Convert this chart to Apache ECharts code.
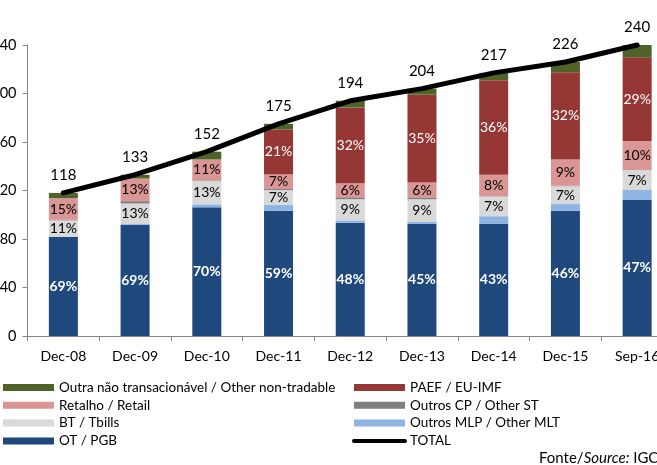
<!DOCTYPE html>
<html>
<head>
<meta charset="utf-8">
<script src="https://cdn.jsdelivr.net/npm/echarts@6/dist/echarts.min.js"></script>
<style>
  html, body { margin: 0; padding: 0; background: #fff; }
  #chart { width: 657px; height: 465px; }
</style>
</head>
<body>
<div id="chart"></div>
<script>
const categories = ["Dec-08", "Dec-09", "Dec-10", "Dec-11", "Dec-12", "Dec-13", "Dec-14", "Dec-15", "Sep-16"];

// stacked components (bottom to top)
const otPgb = [81.9, 91.5, 106.1, 103.3, 93.5, 92.5, 92.5, 103.3, 112.2];
const otherMlt = [0, 0.8, 2.5, 4.7, 1.8, 1.5, 6.3, 5.5, 8.2];
const tbills = [13.5, 17.0, 19.2, 12.3, 17.5, 18.8, 16.3, 14.8, 16.5];
const otherSt = [0.4, 1.9, 0.5, 0.9, 1.6, 1.5, 0.3, 0.5, 0];
const retail = [17.9, 18.7, 17.3, 12.3, 11.6, 12.2, 17.6, 21.4, 23.9];
const euImf = [0, 0, 0, 36.8, 62.5, 72.5, 78.0, 72.0, 69.0];
const otherNonTradable = [4.3, 3.1, 6.4, 4.7, 5.5, 5.0, 6.0, 8.5, 10.2];
const total = [118, 133, 152, 175, 194, 204, 217, 226, 240];

// percentage labels as printed on the bars
const otPgbPct = ["69%", "69%", "70%", "59%", "48%", "45%", "43%", "46%", "47%"];
const tbillsPct = ["11%", "13%", "13%", "7%", "9%", "9%", "7%", "7%", "7%"];
const retailPct = ["15%", "13%", "11%", "7%", "6%", "6%", "8%", "9%", "10%"];
const euImfPct = ["", "", "", "21%", "32%", "35%", "36%", "32%", "29%"];

const yTicks = { min: 0, max: 240, interval: 40 };

const FONT = "Lato";

function pctLabel(texts, color, bold) {
  return {
    show: true,
    position: "inside",
    color: color,
    fontFamily: FONT,
    fontSize: 14,
    fontWeight: bold ? "bold" : "normal",
    formatter: (p) => texts[p.dataIndex]
  };
}

function barSeries(name, data, color, label) {
  return {
    name: name,
    type: "bar",
    stack: "debt",
    barWidth: 29,
    data: data,
    itemStyle: { color: color },
    label: label || { show: false },
    emphasis: { disabled: true }
  };
}

const legendText = { color: "#000", fontSize: 13.5, lineHeight: 15, fontFamily: FONT };

const chart = echarts.init(document.getElementById("chart"));

chart.setOption({
  animation: false,
  textStyle: { fontFamily: FONT },
  grid: { left: 27.5, right: -16, top: 45, bottom: 129, containLabel: false, outerBoundsMode: "none" },
  xAxis: {
    type: "category",
    data: categories,
    axisLine: { lineStyle: { color: "#868686", width: 1 } },
    axisTick: { show: true, length: 5, lineStyle: { color: "#868686" } },
    axisLabel: { color: "#000", fontSize: 14, fontFamily: FONT, margin: 13, interval: 0 }
  },
  yAxis: {
    type: "value",
    min: yTicks.min,
    max: yTicks.max,
    interval: yTicks.interval,
    axisLine: { show: true, lineStyle: { color: "#868686", width: 1 } },
    axisTick: { show: true, length: 5, lineStyle: { color: "#868686" } },
    axisLabel: { color: "#000", fontSize: 14.5, fontFamily: FONT, margin: 11 },
    splitLine: { show: false }
  },
  legend: [
    {
      orient: "vertical",
      left: -2,
      top: 375,
      itemWidth: 51,
      itemHeight: 7,
      itemGap: 2.8,
      icon: "rect",
      textStyle: legendText,
      data: ["Outra não transacionável / Other non-tradable", "Retalho / Retail", "BT / Tbills", "OT / PGB"]
    },
    {
      orient: "vertical",
      left: 347,
      top: 375,
      itemWidth: 51,
      itemHeight: 7,
      itemGap: 2.8,
      textStyle: legendText,
      data: [
        { name: "PAEF / EU-IMF", icon: "rect" },
        { name: "Outros CP / Other ST", icon: "rect" },
        { name: "Outros MLP / Other MLT", icon: "rect" },
        { name: "TOTAL", itemStyle: { opacity: 0 }, lineStyle: { width: 4, cap: "round", color: "#000" } }
      ]
    }
  ],
  graphic: [
    {
      type: "text",
      left: 539,
      top: 451,
      style: {
        text: "Fonte/{i|Source:} IGCP",
        fill: "#000",
        font: "15px " + FONT,
        rich: { i: { fontStyle: "italic", fontSize: 15, fontFamily: FONT } }
      }
    }
  ],
  series: [
    barSeries("OT / PGB", otPgb, "#1F497D", pctLabel(otPgbPct, "#fff", true)),
    barSeries("Outros MLP / Other MLT", otherMlt, "#8DB4E2"),
    barSeries("BT / Tbills", tbills, "#D9D9D9", pctLabel(tbillsPct, "#000", false)),
    barSeries("Outros CP / Other ST", otherSt, "#7F7F7F"),
    barSeries("Retalho / Retail", retail, "#DA9694", pctLabel(retailPct, "#000", false)),
    barSeries("PAEF / EU-IMF", euImf, "#953735", pctLabel(euImfPct, "#fff", false)),
    barSeries("Outra não transacionável / Other non-tradable", otherNonTradable, "#4F6228"),
    {
      name: "TOTAL",
      type: "line",
      data: total,
      z: 5,
      clip: false,
      symbol: "circle",
      symbolSize: 2,
      showSymbol: true,
      lineStyle: { color: "#000", width: 5, cap: "round", join: "round" },
      itemStyle: { color: "#000" },
      label: { show: true, position: "top", distance: 9, color: "#000", fontSize: 15, fontFamily: FONT },
      emphasis: { disabled: true }
    }
  ]
});
</script>
</body>
</html>
